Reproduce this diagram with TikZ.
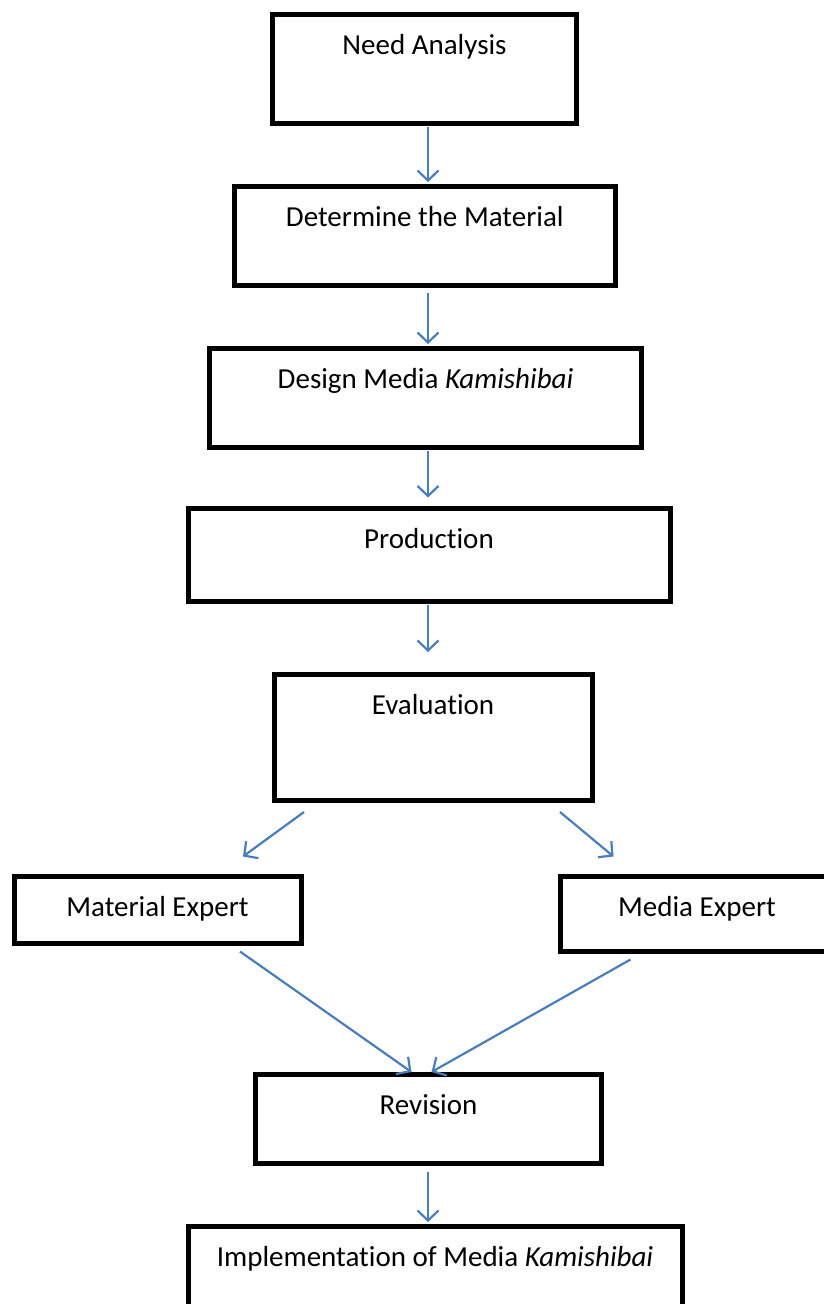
\documentclass[tikz,border=0pt]{standalone}
\usepackage{fontspec}
\setmainfont{Carlito}[RawFeature={-liga;-clig;-calt;-dlig}]
\usetikzlibrary{arrows.meta}
\definecolor{link}{HTML}{4A7EBB}
\newcommand\fsB{\fontsize{29}{35}\selectfont}
\newcommand\kam{\textit{Kamishibai}}

\begin{document}
\begin{tikzpicture}[x=1pt,y=-1pt,
  stage/.style={draw,line width=5pt,anchor=north,font=\fsB,inner ysep=20pt,outer sep=0pt,text height=20pt},
  flow/.style={link,line width=2.2pt,-{Straight Barb[length=10pt,width=21pt]}}]
\useasboundingbox (0,0) rectangle (824,1304);
\clip (0,0) rectangle (824,1304);
\def\sx{428} % x of the main spine
\coordinate (spine) at (\sx,0);
% ============ main column ============
\node[stage,minimum width=304pt,text depth=49.5pt] (need) at (424.5,14) {Need Analysis};
\node[stage,minimum width=381.5pt,text depth=39.5pt] (mater) at (424.75,186) {Determine the Material};
\node[stage,minimum width=432pt,text depth=39.5pt] (design) at (425.5,348) {Design Media \kam};
\node[stage,minimum width=482pt,text depth=33pt] (prod) at (429,508.5) {Production};
\node[stage,minimum width=318pt,text depth=66pt] (eval) at (433,674) {Evaluation};
% ============ experts ============
\node[stage,minimum width=287pt,text depth=7pt] (matexp) at (157.5,876.5) {Material Expert};
\node[stage,minimum width=273pt,text depth=15pt] (medexp) at (697,876.5) {Media Expert};
% ============ revision and use ============
\node[stage,minimum width=346pt,text depth=29.5pt] (rev) at (428.5,1074) {Revision};
\node[stage,minimum width=494pt,text depth=40pt] (impl) at (435,1226) {Implementation of Media \kam};
% ============ arrows ============
\draw[flow,shorten <=3pt,shorten >=4pt] (need.south -| spine) -- (mater.north -| spine);
\draw[flow,shorten <=7.5pt,shorten >=4pt] (mater.south -| spine) -- (design.north -| spine);
\draw[flow,shorten <=3pt,shorten >=11pt] (design.south -| spine) -- (prod.north -| spine);
\draw[flow,shorten <=3pt,shorten >=22pt] (prod.south -| spine) -- (eval.north -| spine);
\draw[flow] ([xshift=30pt,yshift=-12pt]eval.south west) -- ([xshift=-58pt,yshift=20pt]matexp.north east);
\draw[flow] ([xshift=-32pt,yshift=-12pt]eval.south east) -- ([xshift=53pt,yshift=20pt]medexp.north west);
\draw[flow] ([xshift=-61pt,yshift=-8pt]matexp.south east) -- ([xshift=-17pt,yshift=2pt]rev.north);
\draw[flow] ([xshift=70pt,yshift=-8pt]medexp.south west) -- ([xshift=3pt,yshift=2pt]rev.north);
\draw[flow,shorten <=8pt,shorten >=4pt] (rev.south -| spine) -- (impl.north -| spine);
\end{tikzpicture}
\end{document}
